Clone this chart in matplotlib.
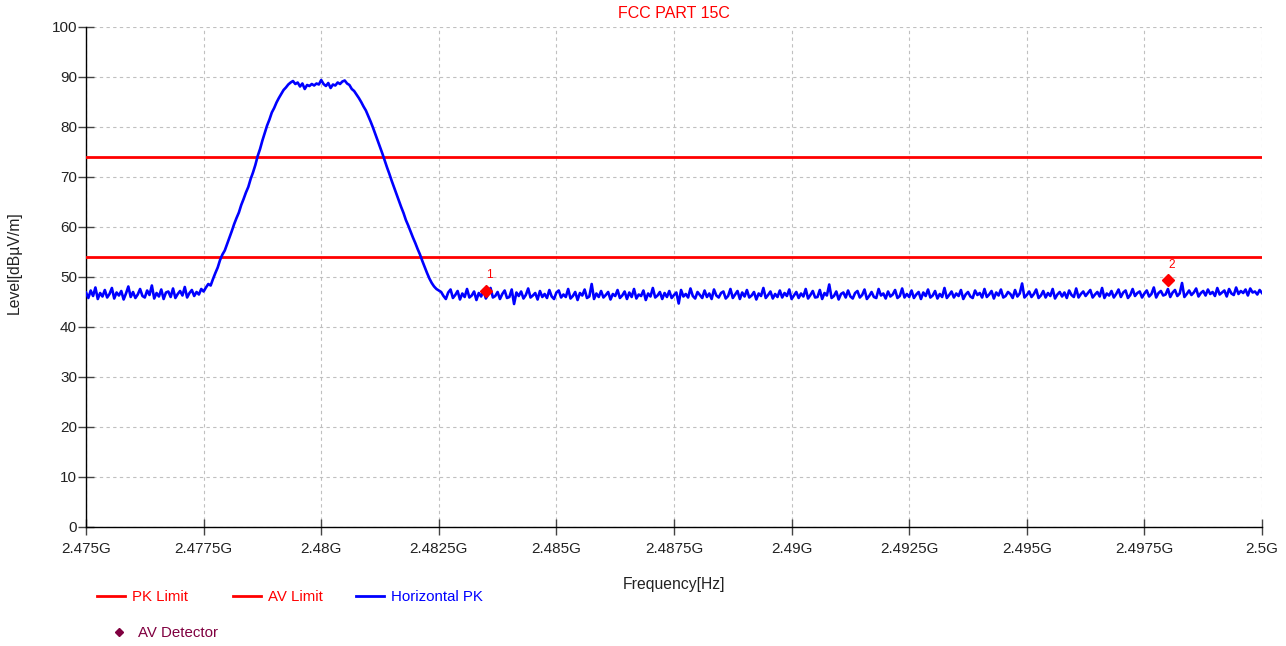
import numpy as np
import matplotlib
matplotlib.use('Agg')
import matplotlib.pyplot as plt
from matplotlib.lines import Line2D

plt.rcParams['font.family'] = ['Liberation Sans', 'DejaVu Sans']
fs_tick, fs_lab, fs_title, fs_leg, fs_mk = 11, 11.3, 11.5, 10.8, 8.5

title = 'FCC PART 15C'
x_label = 'Frequency[Hz]'
y_label = 'Level[dBµV/m]'
x_ticks = [2.475, 2.4775, 2.48, 2.4825, 2.485, 2.4875, 2.49, 2.4925, 2.495, 2.4975, 2.5]
x_tick_labels = ['2.475G', '2.4775G', '2.48G', '2.4825G', '2.485G', '2.4875G',
                 '2.49G', '2.4925G', '2.495G', '2.4975G', '2.5G']
y_ticks = [0, 10, 20, 30, 40, 50, 60, 70, 80, 90, 100]

pk_limit = 74
av_limit = 54

# Horizontal PK trace (dBuV/m)
floor_left = [46.9, 45.8, 47.3, 46.2, 47.9, 45.6, 46.8, 46.1, 47.4, 45.9, 46.6, 47.8, 45.7,
              46.9, 46.3, 47.2, 45.5, 46.7, 48.1, 46.0, 47.0, 45.8, 46.5, 47.6, 46.2, 45.9,
              47.3, 46.4, 48.3, 45.7, 46.8, 46.1, 47.5, 45.6, 46.9, 47.1, 46.0, 47.7, 45.8,
              46.6, 47.2, 46.3, 48.0, 45.9, 46.8, 47.4, 46.2, 47.0, 46.5, 47.6, 47.1]
signal = [47.9, 48.6, 48.3, 49.6, 50.8, 51.9, 53.4, 54.5, 55.3, 56.6,
          57.9, 59.2, 60.6, 61.8, 62.9, 64.4, 65.6, 66.9, 68.0, 69.6,
          70.9, 72.4, 74.2, 75.6, 77.3, 78.8, 80.3, 81.5, 82.9, 83.8,
          84.9, 85.8, 86.6, 87.4, 87.9, 88.5, 88.9, 89.2, 88.6, 88.9,
          88.1, 88.7, 87.6, 88.4, 88.2, 88.6, 88.3, 88.7, 88.5, 89.4,
          88.6, 88.2, 88.8, 87.8, 88.5, 88.3, 88.9, 88.6, 89.1, 89.3,
          88.7, 88.4, 87.6, 87.2, 86.5, 85.8, 85.0, 84.1, 83.3, 82.2,
          81.1, 79.9, 78.6, 77.3, 76.0, 74.7, 73.3, 71.9, 70.6, 69.2,
          67.9, 66.6, 65.3, 64.0, 62.8, 61.4, 60.3, 59.1, 57.9, 56.8,
          55.6, 54.5, 53.2, 52.0, 50.8, 49.7, 48.8, 48.1, 47.6, 47.3]
floor_right = [
    47.0, 46.2, 45.6, 46.9, 47.5, 45.8, 46.4, 47.2, 45.5, 46.7, 46.0, 47.6, 45.9, 46.3, 47.1, 45.4, 46.8, 46.1, 47.4, 45.7, 46.5, 47.8, 45.9, 46.2, 47.0,
    45.6, 46.6, 47.3, 45.8, 46.0, 47.5, 44.6, 46.9, 46.2, 47.1, 45.7, 46.4, 47.7, 45.9, 46.3, 46.8, 45.5, 47.2, 46.0, 46.6, 45.8, 47.4, 46.1, 45.6, 46.9,
    47.3, 45.9, 46.5, 46.0, 47.6, 45.7, 46.2, 47.0, 45.4, 46.8, 46.3, 47.5, 45.8, 46.1, 48.6, 45.6, 46.7, 46.0, 47.2, 45.9, 46.4, 47.0, 45.5, 46.6, 46.2,
    47.4, 45.8, 46.3, 47.1, 45.6, 46.9, 46.0, 47.6, 45.7, 46.5, 46.2, 47.3, 45.4, 46.7, 46.1, 47.8, 45.9, 46.3, 47.0, 45.6, 46.8, 46.0, 47.2, 45.8, 46.4,
    46.9, 44.7, 47.4, 46.1, 46.6, 45.9, 47.7, 46.2, 45.7, 47.0, 46.4, 45.8, 47.3, 46.0, 46.7, 45.6, 47.5, 46.3, 45.9, 46.8, 47.1, 45.7, 46.2, 47.6, 45.8,
    46.5, 47.2, 45.6, 46.9, 46.1, 47.4, 45.9, 46.3, 47.0, 45.5, 46.7, 46.2, 47.8, 45.8, 46.4, 47.1, 45.7, 46.6, 46.0, 47.3, 45.9, 46.8, 46.2, 47.5, 45.6,
    46.3, 47.0, 45.8, 46.7, 46.1, 47.6, 45.7, 46.4, 47.2, 45.9, 46.0, 47.4, 45.6, 46.8, 46.3, 48.5, 45.8, 46.2, 47.1, 45.5, 46.6, 46.9, 45.9, 47.3, 46.1,
    45.7, 46.8, 47.2, 45.9, 46.4, 47.5, 45.6, 46.2, 47.0, 46.0, 45.8, 47.6, 46.3, 46.7, 45.7, 47.1, 46.1, 46.5, 47.4, 45.8, 46.2, 47.7, 45.9, 46.6, 46.0,
    47.3, 45.8, 46.5, 47.0, 45.6, 46.9, 46.2, 47.5, 45.9, 46.3, 47.2, 45.7, 46.6, 46.0, 47.8, 45.8, 46.4, 47.1, 45.9, 46.7, 46.2, 47.4, 45.6, 46.5, 47.0,
    46.1, 45.8, 47.3, 46.4, 46.8, 45.9, 47.6, 46.0, 46.5, 47.2, 45.7, 46.9, 46.3, 47.5, 45.9, 46.2, 47.0, 46.6, 45.8, 47.4, 46.1, 46.7, 48.7, 45.9, 46.4,
    47.1, 46.0, 46.6, 47.5, 45.8, 46.3, 47.2, 45.9, 46.8, 46.2, 47.6, 45.7, 46.5, 47.0, 46.1, 46.9, 45.8, 47.3, 46.4, 46.0, 47.7, 45.9, 46.6, 47.1, 46.2,
    46.8, 47.4, 45.9, 46.5, 47.0, 46.1, 47.8, 45.8, 46.7, 46.3, 47.2, 45.9, 46.6, 47.5, 46.0, 46.9, 47.3, 45.8, 46.4, 47.6, 46.2, 46.8, 47.1, 45.9, 46.7,
    47.3, 46.1, 46.6, 47.9, 45.9, 46.8, 47.2, 46.3, 46.5, 47.6, 46.0, 46.9, 47.4, 46.2, 46.7, 48.8, 46.0, 46.6, 47.3, 46.4, 46.9, 47.7, 46.1, 46.8, 47.2,
    46.3, 47.5, 46.6, 47.0, 46.2, 47.8, 46.5, 46.9, 47.3, 46.1, 47.6, 46.7, 46.4, 47.9, 46.6, 47.2, 46.8, 47.5, 46.3, 47.7, 46.9, 47.1, 46.5, 47.4, 46.8]

marker_freq = [2.4835, 2.498]
marker_level = [47.3, 49.5]
marker_ids = ['1', '2']

legend_labels = ['PK Limit', 'AV Limit', 'Horizontal PK']
detector_label = 'AV Detector'

W, H = 1286, 646
fig = plt.figure(figsize=(W / 100, H / 100), dpi=100)
ax = fig.add_axes([86 / W, 119 / H, 1176 / W, 500 / H])

f_left = np.linspace(2.475, 2.4775, len(floor_left))
f_sig = np.linspace(2.47755, 2.4825, len(signal))
f_right = np.linspace(2.48255, 2.5, len(floor_right))
freq = np.concatenate([f_left, f_sig, f_right])
level = np.concatenate([floor_left, signal, floor_right])

red = '#ff0000'
blue = '#0000ff'
maroon = '#800040'
txt = '#222222'

ax.plot([x_ticks[0], x_ticks[-1]], [pk_limit, pk_limit], color=red, lw=2, zorder=3)
ax.plot([x_ticks[0], x_ticks[-1]], [av_limit, av_limit], color=red, lw=2, zorder=3)
ax.plot(freq, level, color=blue, lw=1.9, zorder=4)
ax.plot(marker_freq, marker_level, linestyle='none', marker='D', ms=6,
        color=red, zorder=5)
for fx, ly, lab in zip(marker_freq, marker_level, marker_ids):
    ax.annotate(lab, (fx, ly), xytext=(4, 15), textcoords='offset pixels',
                color=red, fontsize=fs_mk, ha='center', va='center', zorder=6)

ax.set_xlim(x_ticks[0], x_ticks[-1])
ax.set_ylim(y_ticks[0], y_ticks[-1])
ax.set_xticks(x_ticks)
ax.set_xticklabels(x_tick_labels)
ax.set_yticks(y_ticks)
ax.grid(True, color='#c0c0c0', linestyle=(0, (3, 3)), lw=0.8, zorder=0)
ax.set_axisbelow(True)
for s in ['top', 'right']:
    ax.spines[s].set_visible(False)
for s in ['left', 'bottom']:
    ax.spines[s].set_color('black')
    ax.spines[s].set_linewidth(1)
ax.tick_params(axis='both', direction='inout', length=11, width=1, color='#444444',
               labelsize=fs_tick, labelcolor=txt)
ax.tick_params(axis='y', pad=1)
ax.tick_params(axis='x', pad=5)

fig.text((86 + 1262) / 2 / W, 1 - 14 / H, title, color=red, fontsize=fs_title,
         ha='center', va='center')
fig.text(14 / W, 1 - 263 / H, y_label, rotation=90, fontsize=fs_lab,
         ha='center', va='center', color=txt)
fig.text((86 + 1262) / 2 / W, 1 - 584 / H, x_label, fontsize=fs_lab,
         ha='center', va='center', color=txt)

# legend entries, each anchored at its own handle position
entry_x = [97, 233, 356]
entry_col = [red, red, blue]
for xp, lab, col in zip(entry_x, legend_labels, entry_col):
    fig.legend([Line2D([], [], color=col, lw=2)], [lab], loc='center left',
               bbox_to_anchor=(xp / W, 1 - 597 / H), frameon=False,
               fontsize=fs_leg, handlelength=28 / (fs_leg * 100 / 72),
               handletextpad=7 / (fs_leg * 100 / 72),
               borderpad=0, borderaxespad=0, labelcolor=[col])
fig.legend([Line2D([], [], linestyle='none', marker='D', ms=4, color=maroon)],
           [detector_label], loc='center left',
           bbox_to_anchor=(105 / W, 1 - 633 / H), frameon=False,
           fontsize=fs_leg, handlelength=28 / (fs_leg * 100 / 72),
           handletextpad=5 / (fs_leg * 100 / 72),
           borderpad=0, borderaxespad=0, labelcolor=[maroon])

fig.savefig('out.png', dpi=100)
